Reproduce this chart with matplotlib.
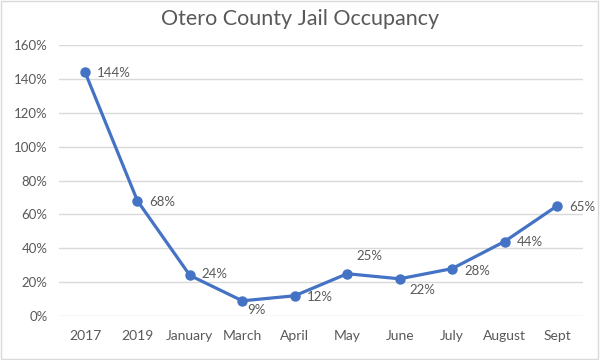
import matplotlib
matplotlib.use("Agg")
import matplotlib.pyplot as plt
from matplotlib.patches import Rectangle

categories = ["2017", "2019", "January", "March", "April", "May", "June", "July", "August", "Sept"]
occupancy = [144, 68, 24, 9, 12, 25, 22, 28, 44, 65]
labels = ["144%", "68%", "24%", "9%", "12%", "25%", "22%", "28%", "44%", "65%"]
# label offsets in pixels (style)
offsets = [(12, -1), (12, -1), (12, 1), (5, -9), (12, -1), (9, 18), (10, -11), (12, -2), (12, 0), (12, -1)]

plt.rcParams['font.family'] = ['Lato', 'DejaVu Sans']
text_color = "#595959"

fig = plt.figure(figsize=(6, 3.6), dpi=100)
ax = fig.add_axes([0.098, 0.122, 0.874, 0.753])

x = list(range(len(categories)))
ax.plot(x, occupancy, color="#4472C4", linewidth=2.3, marker="o", markersize=6.5, zorder=3)

for xi, yi, lab, (dx, dy) in zip(x, occupancy, labels, offsets):
    ax.annotate(lab, (xi, yi), xytext=(dx, dy), textcoords="offset pixels",
                ha="left", va="center", fontsize=9.5, color=text_color)

ax.set_xlim(-0.5, len(categories) - 0.5)
ax.set_ylim(0, 160)
ax.set_yticks(range(0, 161, 20))
ax.set_yticklabels([f"{v}%" for v in range(0, 161, 20)])
ax.set_xticks(x)
ax.set_xticklabels(categories)
ax.tick_params(axis="x", length=0, labelsize=10, colors=text_color, pad=10)
ax.tick_params(axis="y", length=0, labelsize=9.5, colors=text_color, pad=8)
ax.grid(axis="y", color="#D9D9D9", linewidth=1)
ax.set_axisbelow(True)
for s in ax.spines.values():
    s.set_visible(False)

fig.suptitle("Otero County Jail Occupancy", y=0.975, fontsize=15.5, color=text_color)

fig.patches.append(Rectangle((0.002, 0.003), 0.995, 0.993, transform=fig.transFigure,
                             fill=False, edgecolor="#D9D9D9", linewidth=1))

fig.savefig("out.png", dpi=100)
